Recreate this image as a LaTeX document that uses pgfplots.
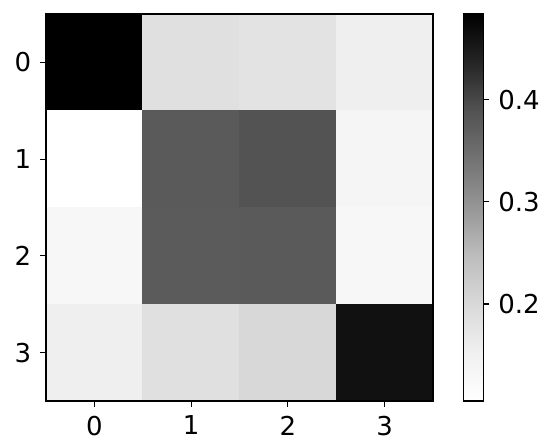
\documentclass[border=0pt]{standalone}
\usepackage{pgfplots}
\pgfplotsset{compat=1.18}
\usepackage{fontspec}
\setmainfont{DejaVu Sans}

% matplotlib "Greys"
\pgfplotsset{
  colormap={greys}{rgb255=(255,255,255) rgb255=(240,240,240) rgb255=(217,217,217)
    rgb255=(189,189,189) rgb255=(150,150,150) rgb255=(115,115,115)
    rgb255=(82,82,82) rgb255=(37,37,37) rgb255=(0,0,0)},
}

\begin{document}
\fontsize{19.5}{23}\selectfont
\begin{tikzpicture}
% page = 550x447 px at 0.75pt per px, axis box SW corner at origin
\path[use as bounding box] (-34.5pt,-34.5pt) rectangle (378pt,300.75pt);
\begin{axis}[
    at={(0,0)}, anchor=south west,
    scale only axis,
    axis on top,
    width=290.25pt, height=290.25pt,
    xmin=-0.5, xmax=3.5, ymin=-0.5, ymax=3.5,
    y dir=reverse,
    xtick={0,1,2,3}, ytick={0,1,2,3},
    xtick pos=bottom, ytick pos=left,
    tick align=outside,
    major tick length=4.5pt,
    every tick/.style={black, line width=0.8pt},
    axis line style={line width=0.9pt},
    ticklabel style={font=\fontsize{19.5}{23}\selectfont},
    /pgf/number format/assume math mode=true,
    colormap name=greys,
    point meta min=0.105, point meta max=0.484,
    colorbar,
    colorbar style={
        anchor=north west,
        at={(parent axis.north east)},
        xshift=14.25pt,
        width=15pt,
        axis on top,
        ytick={0.2,0.3,0.4},
        ytick pos=right,
        yticklabel pos=right,
        yticklabel style={font=\fontsize{19.5}{23}\selectfont,
            /pgf/number format/fixed, /pgf/number format/precision=1,
            /pgf/number format/fixed zerofill},
        /pgf/number format/assume math mode=true,
        tick align=outside,
        major tick length=4.5pt,
        every tick/.style={black, line width=0.8pt},
        axis line style={line width=0.9pt},
    },
]
\addplot[matrix plot*, mesh/cols=4, point meta=explicit] table[meta=c] {
x y c
0 0 0.484
1 0 0.185
2 0 0.179
3 0 0.155
0 1 0.105
1 1 0.378
2 1 0.388
3 1 0.137
0 2 0.130
1 2 0.376
2 2 0.378
3 2 0.130
0 3 0.155
1 3 0.185
2 3 0.201
3 3 0.462
};
\end{axis}
\end{tikzpicture}
\end{document}
